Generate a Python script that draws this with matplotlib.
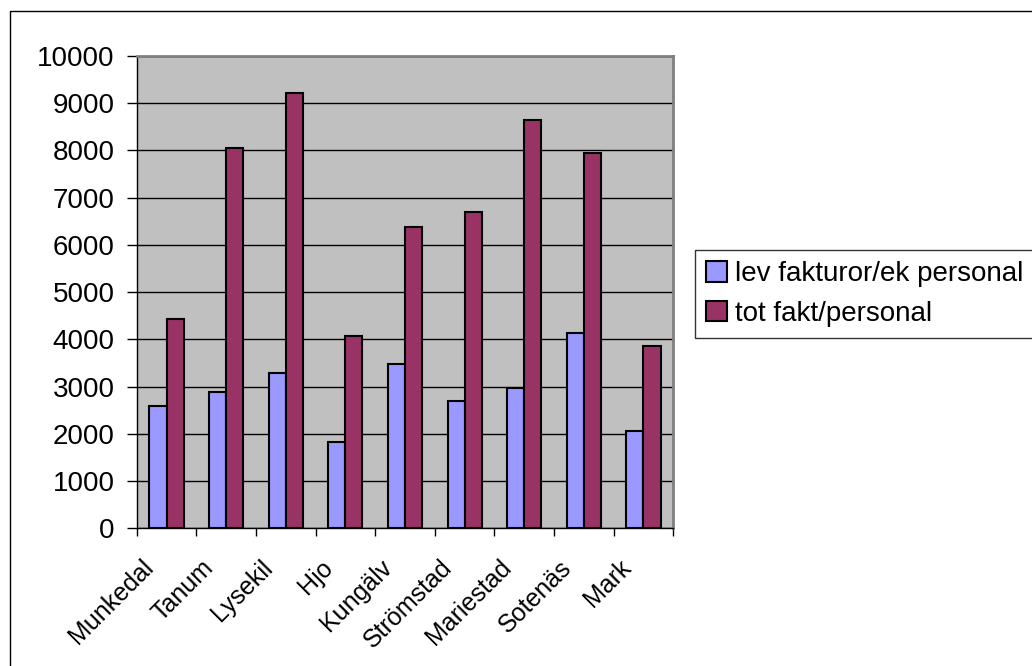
import matplotlib.pyplot as plt
import matplotlib.patches as mpatches
from matplotlib.transforms import ScaledTranslation
import numpy as np

plt.rcParams['font.family'] = ['Liberation Sans', 'DejaVu Sans']

kommuner = ['Munkedal', 'Tanum', 'Lysekil', 'Hjo', 'Kungälv',
            'Strömstad', 'Mariestad', 'Sotenäs', 'Mark']
lev_fakturor = [2590, 2880, 3290, 1835, 3480, 2700, 2970, 4140, 2070]
tot_fakt = [4440, 8060, 9210, 4080, 6390, 6700, 8645, 7950, 3850]

W, H = 1032, 666
fig = plt.figure(figsize=(W / 100, H / 100), dpi=100)

# outer chart border (right/bottom run off the image)
fig.patches.append(mpatches.Rectangle((10 / W, -0.1), 1.2, 1.1 - 11 / H,
                                      transform=fig.transFigure, fill=False,
                                      edgecolor='black', linewidth=1))

ax = fig.add_axes([136.7 / W, 1 - 528.3 / H, (673.3 - 136.7) / W, (528.3 - 56) / H])
ax.set_facecolor('#C0C0C0')

x = np.arange(len(kommuner))
w = 0.286
ax.bar(x - w / 2, lev_fakturor, w, color='#9999FF', edgecolor='black',
       linewidth=1.5, label='lev fakturor/ek personal', zorder=3)
ax.bar(x + w / 2, tot_fakt, w, color='#993366', edgecolor='black',
       linewidth=1.5, label='tot fakt/personal', zorder=3)

ax.set_xlim(-0.5, len(kommuner) - 0.5)
ax.set_ylim(0, 10000)
ax.set_yticks(np.arange(0, 10001, 1000))
ax.yaxis.grid(True, color='black', linewidth=1)
ax.set_axisbelow(True)
ax.tick_params(axis='y', labelsize=20, length=7, width=1, pad=9, direction='out')

ax.set_xticks(np.arange(len(kommuner) + 1) - 0.5)
ax.set_xticklabels([])
ax.tick_params(axis='x', which='major', length=6, width=1, direction='out')

# category labels, rotated like the original
off = ax.get_xaxis_transform() + ScaledTranslation(-8 / 100, -44 / 100, fig.dpi_scale_trans)
for xi, name in zip(x, kommuner):
    ax.text(xi, 0, name, transform=off, rotation=45, rotation_mode='anchor',
            ha='right', va='bottom', fontsize=18, clip_on=False)

for s in ['top', 'right']:
    ax.spines[s].set_color('#808080')
    ax.spines[s].set_linewidth(2)
for s in ['left', 'bottom']:
    ax.spines[s].set_color('black')
    ax.spines[s].set_linewidth(1)

leg = fig.legend(loc='upper left', bbox_to_anchor=(695 / W, 1 - 250 / H),
                 fontsize=20, frameon=True, fancybox=False, edgecolor='black',
                 handlelength=0.75, handleheight=0.75, handletextpad=0.3,
                 borderpad=0.4, labelspacing=0.5, borderaxespad=0)
leg.get_frame().set_linewidth(1)

fig.savefig('out.png', dpi=100)
